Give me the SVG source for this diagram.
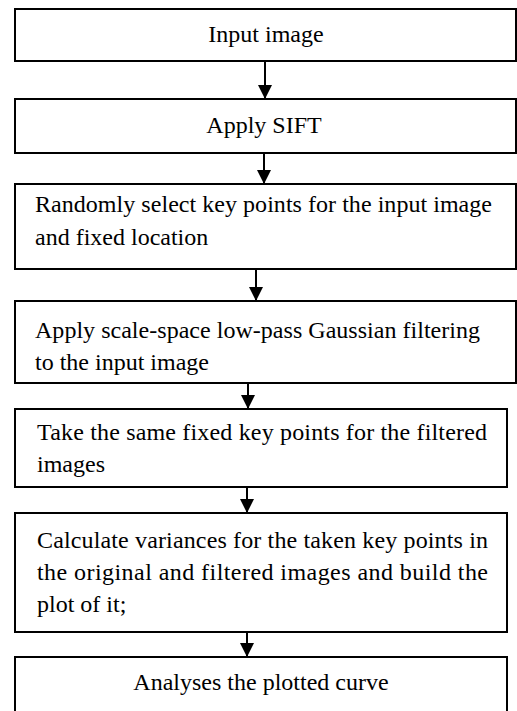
<svg xmlns="http://www.w3.org/2000/svg" width="517" height="711" viewBox="0 0 517 711">
<style>
.box{fill:#fff;stroke:#000;stroke-width:2}
.t{font-family:'Liberation Serif','Times New Roman',Times,Tinos,'DejaVu Serif',serif;font-size:24px;fill:#000}
.c{text-anchor:middle}
.arr{stroke:#000;stroke-width:2;fill:none}
</style>
<defs>
<marker id="ah" markerUnits="userSpaceOnUse" viewBox="0 0 14 14" markerWidth="14" markerHeight="14" refX="14" refY="7" orient="auto">
<path d="M0,0 L14,7 L0,14 z" fill="#000"/>
</marker>
</defs>
<rect width="517" height="711" fill="#fff"/>
<g id="connectors">
<line class="arr" x1="265" y1="61" x2="265" y2="99" marker-end="url(#ah)"/>
<line class="arr" x1="264" y1="153" x2="264" y2="184" marker-end="url(#ah)"/>
<line class="arr" x1="256" y1="269" x2="256" y2="301" marker-end="url(#ah)"/>
<line class="arr" x1="248" y1="383" x2="248" y2="409" marker-end="url(#ah)"/>
<line class="arr" x1="247" y1="487" x2="247" y2="513" marker-end="url(#ah)"/>
<line class="arr" x1="247" y1="632" x2="247" y2="657" marker-end="url(#ah)"/>
</g>
<g id="n1">
<rect class="box" x="15" y="9" width="501" height="52"/>
<text class="t c" x="266" y="42">Input image</text>
</g>
<g id="n2">
<rect class="box" x="15" y="99" width="501" height="54"/>
<text class="t c" x="264" y="133">Apply SIFT</text>
</g>
<g id="n3">
<rect class="box" x="15" y="184" width="501" height="85"/>
<text class="t" x="35" y="212" textLength="457" lengthAdjust="spacing">Randomly select key points for the input image</text>
<text class="t" x="35" y="245">and fixed location</text>
</g>
<g id="n4">
<rect class="box" x="15" y="301" width="501" height="82"/>
<text class="t" x="35" y="338" textLength="445" lengthAdjust="spacing">Apply scale-space low-pass Gaussian filtering</text>
<text class="t" x="35" y="370">to the input image</text>
</g>
<g id="n5">
<rect class="box" x="15" y="409" width="492" height="78"/>
<text class="t" x="37" y="440" textLength="450" lengthAdjust="spacing">Take the same fixed key points for the filtered</text>
<text class="t" x="37" y="472">images</text>
</g>
<g id="n6">
<rect class="box" x="15" y="513" width="492" height="119"/>
<text class="t" x="37" y="548" textLength="451" lengthAdjust="spacing">Calculate variances for the taken key points in</text>
<text class="t" x="37" y="580" textLength="451" lengthAdjust="spacing">the original and filtered images and build the</text>
<text class="t" x="37" y="612">plot of it;</text>
</g>
<g id="n7">
<rect class="box" x="15" y="657" width="492" height="70"/>
<text class="t c" x="261" y="690">Analyses the plotted curve</text>
</g>
</svg>
